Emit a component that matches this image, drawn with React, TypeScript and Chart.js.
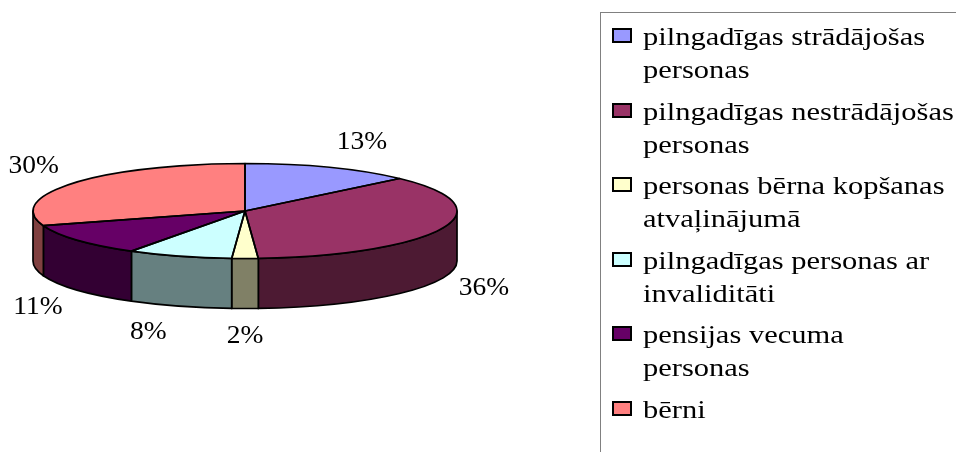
import React, { useEffect, useRef } from 'react';
import { Chart, registerables } from 'chart.js';

Chart.register(...registerables);

// ---- data ----
const CATEGORIES: string[][] = [
  ['pilngadīgas strādājošas', 'personas'],
  ['pilngadīgas nestrādājošas', 'personas'],
  ['personas bērna kopšanas', 'atvaļinājumā'],
  ['pilngadīgas personas ar', 'invaliditāti'],
  ['pensijas vecuma', 'personas'],
  ['bērni'],
];
const VALUES = [13, 36, 2, 8, 11, 30];
const TOP_COLORS = ['#9999FF', '#993366', '#FFFFCC', '#CCFFFF', '#660066', '#FF8080'];
const SIDE_COLORS = ['#4D4D80', '#4D1A33', '#808066', '#668080', '#330033', '#804040'];

// ---- layout / style ----
const CX = 245;
const CY = 211;
const RX = 212;
const RY = 47.5;
const DEPTH = 50;
const LABEL_RX = 255;
const LABEL_RY = 75;
const LABEL_SHIFT = 26;
const TEXT_SX = 1.22;
const LABEL_SX = 1.1;
const FONT = '25px "Liberation Serif", "Times New Roman", serif';

const pie3d = {
  id: 'pie3d',
  beforeDatasetsDraw(chart: any) {
    const ctx: CanvasRenderingContext2D = chart.ctx;
    const meta = chart.getDatasetMeta(0);
    ctx.save();
    ctx.lineWidth = 1.7;
    ctx.strokeStyle = '#000';
    ctx.lineJoin = 'round';
    meta.data.forEach((arc: any, i: number) => {
      const { startAngle, endAngle } = arc.getProps(['startAngle', 'endAngle'], true);
      const s = Math.max(startAngle, 0);
      const e = Math.min(endAngle, Math.PI);
      if (e <= s) return;
      ctx.beginPath();
      ctx.ellipse(CX, CY, RX, RY, 0, s, e);
      ctx.ellipse(CX, CY + DEPTH, RX, RY, 0, e, s, true);
      ctx.closePath();
      ctx.fillStyle = SIDE_COLORS[i];
      ctx.fill();
      ctx.stroke();
    });
    ctx.restore();
    const a0 = meta.data[0];
    ctx.save();
    ctx.translate(CX, CY);
    ctx.scale(RX / a0.outerRadius, RY / a0.outerRadius);
    ctx.translate(-a0.x, -a0.y);
  },
  afterDatasetsDraw(chart: any) {
    const ctx: CanvasRenderingContext2D = chart.ctx;
    ctx.restore();
    const meta = chart.getDatasetMeta(0);
    const total = VALUES.reduce((a, b) => a + b, 0);
    ctx.save();
    ctx.lineWidth = 1.7;
    ctx.strokeStyle = '#000';
    ctx.lineJoin = 'round';
    meta.data.forEach((arc: any) => {
      const { startAngle, endAngle } = arc.getProps(['startAngle', 'endAngle'], true);
      ctx.beginPath();
      ctx.moveTo(CX, CY);
      ctx.ellipse(CX, CY, RX, RY, 0, startAngle, endAngle);
      ctx.closePath();
      ctx.stroke();
    });
    ctx.fillStyle = '#000';
    ctx.font = FONT;
    ctx.textAlign = 'center';
    ctx.textBaseline = 'middle';
    meta.data.forEach((arc: any, i: number) => {
      const { startAngle, endAngle } = arc.getProps(['startAngle', 'endAngle'], true);
      const mid = (startAngle + endAngle) / 2;
      const sn = Math.sin(mid);
      const cs = Math.cos(mid);
      const side = Math.abs(cs) < 0.05 ? 0 : Math.sign(cs);
      const x = CX + LABEL_RX * cs + LABEL_SHIFT * side * (1 - Math.abs(cs));
      const y = CY + LABEL_RY * sn + (sn > 0.05 ? DEPTH : 0);
      const txt = Math.round((VALUES[i] / total) * 100) + '%';
      ctx.save();
      ctx.translate(x, y);
      ctx.scale(LABEL_SX, 1);
      ctx.fillText(txt, 0, 0);
      ctx.restore();
    });
    ctx.restore();
  },
};

export default function App() {
  const ref = useRef<HTMLCanvasElement>(null);
  useEffect(() => {
    if (!ref.current) return;
    const chart = new Chart(ref.current, {
      type: 'pie',
      data: {
        labels: CATEGORIES.map((c) => c.join(' ')),
        datasets: [
          {
            data: VALUES,
            backgroundColor: TOP_COLORS,
            borderWidth: 0,
            clip: false,
          } as any,
        ],
      },
      options: {
        responsive: false,
        animation: false,
        events: [],
        layout: { padding: { left: 33, right: 499, top: 14, bottom: 14 } },
        plugins: {
          legend: { display: false },
          tooltip: { enabled: false },
        },
      },
      plugins: [pie3d],
    });
    return () => chart.destroy();
  }, []);

  return (
    <div style={{ position: 'fixed', left: 0, top: 0, width: 956, height: 452, background: '#fff', overflow: 'hidden' }}>
      <canvas ref={ref} width={956} height={452} style={{ position: 'absolute', left: 0, top: 0 }} />
      <div
        style={{
          position: 'absolute',
          left: 600,
          top: 12,
          width: 420,
          height: 480,
          borderLeft: '1px solid #808080',
          borderTop: '1px solid #808080',
          boxSizing: 'border-box',
          paddingTop: 7,
          font: FONT,
          lineHeight: '33px',
          color: '#000',
        }}
      >
        {CATEGORIES.map((lines, i) => (
          <div key={i} style={{ position: 'relative', marginBottom: 8.5, paddingLeft: 42 }}>
            <div
              style={{
                position: 'absolute',
                left: 11,
                top: 8,
                width: 20,
                height: 15,
                boxSizing: 'border-box',
                border: '2px solid #000',
                background: TOP_COLORS[i],
              }}
            />
            {lines.map((ln, j) => (
              <div key={j} style={{ height: 33, whiteSpace: 'nowrap' }}>
                <span style={{ display: 'inline-block', transform: `scaleX(${TEXT_SX})`, transformOrigin: '0 0' }}>{ln}</span>
              </div>
            ))}
          </div>
        ))}
      </div>
    </div>
  );
}
